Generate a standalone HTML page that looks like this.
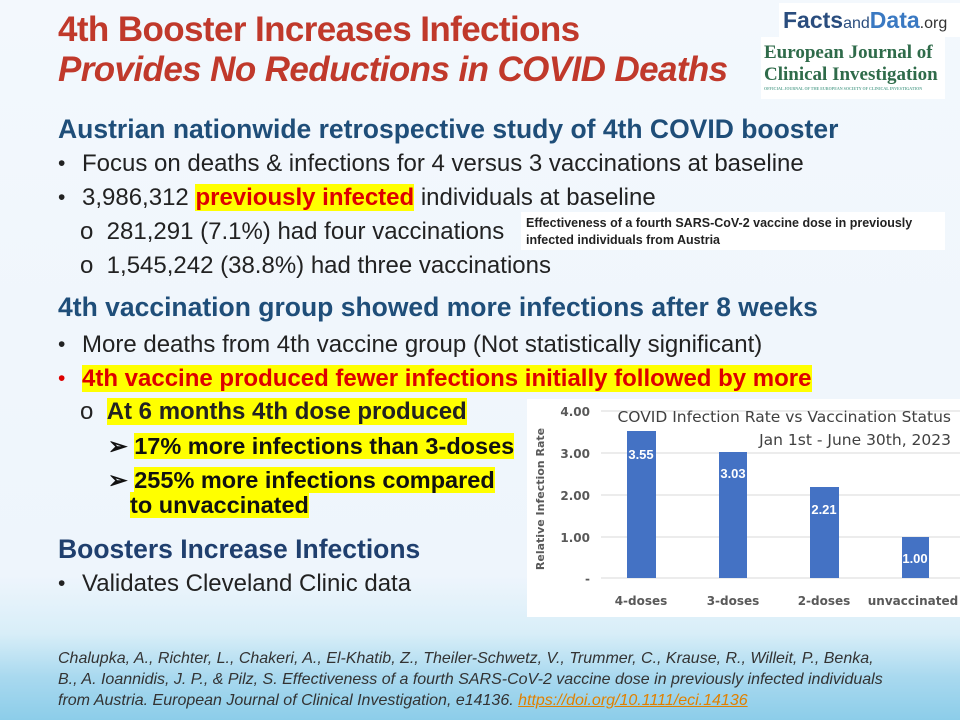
<!DOCTYPE html>
<html><head><meta charset="utf-8"><style>
body{margin:0;width:960px;height:720px;overflow:hidden;font-family:"Liberation Sans",sans-serif;position:relative;
background:linear-gradient(180deg,#f3f8fd 0%,#eef5fc 80%,#d8eef8 88%,#a9d9ef 94%,#8ccde9 100%);}
.a{position:absolute;white-space:nowrap}
.t{color:#c0392b;font-weight:bold;font-size:35px;left:58px;letter-spacing:-0.6px}
.h{color:#1f4e79;font-weight:bold;font-size:26.5px;left:58px}
.b{color:#222;font-size:24px;left:82px}
.dot{position:absolute;left:58px;font-size:21px;color:#222}
.y{background:#ffff00}
.bk{color:#111;font-weight:bold;font-size:23.5px}
</style></head><body>
<div class="a t" style="top:10px">4th Booster Increases Infections</div>
<div class="a t" style="top:50px;font-style:italic">Provides No Reductions in COVID Deaths</div>
<div class="a" style="left:779px;top:3px;width:181px;height:34px;background:#fff;font-size:23px;line-height:34px;padding-left:4px;box-sizing:border-box"><b style="color:#2a4d7e">Facts</b><span style="font-size:16px;color:#2a4d7e">and</span><b style="color:#3a79c2">Data</b><span style="font-size:16px;color:#333">.org</span></div>
<div class="a" style="left:761px;top:37px;width:184px;height:62px;background:#fff;font-family:'Liberation Serif',serif;font-weight:bold;color:#2f6b4a;font-size:19px;line-height:22px;padding:5px 0 0 3px;box-sizing:border-box">European Journal of<br>Clinical Investigation<div style="font-size:4px;line-height:6px;color:#6a9">OFFICIAL JOURNAL OF THE EUROPEAN SOCIETY OF CLINICAL INVESTIGATION</div></div>
<div class="a h" style="top:114px">Austrian nationwide retrospective study of 4th COVID booster</div>
<div class="dot" style="top:152px">•</div><div class="a b" style="top:150px">Focus on deaths &amp; infections for 4 versus 3 vaccinations at baseline</div>
<div class="dot" style="top:186px">•</div><div class="a b" style="top:184px">3,986,312 <b class="y" style="color:#d00">previously infected</b> individuals at baseline</div>
<div class="a b" style="left:80px;top:218px">o&nbsp; 281,291 (7.1%) had four vaccinations</div>
<div class="a b" style="left:80px;top:252px">o&nbsp; 1,545,242 (38.8%) had three vaccinations</div>
<div class="a" style="left:521px;top:212px;width:424px;height:38px;background:#fff;font-size:12.5px;font-weight:bold;color:#222;line-height:17px;padding:3px 0 0 5px;box-sizing:border-box">Effectiveness of a fourth SARS-CoV-2 vaccine dose in previously<br>infected individuals from Austria</div>
<div class="a h" style="top:292px">4th vaccination group showed more infections after 8 weeks</div>
<div class="dot" style="top:333px">•</div><div class="a b" style="top:331px">More deaths from 4th vaccine group (Not statistically significant)</div>
<div class="dot" style="top:367px;color:#d00">•</div><div class="a b" style="top:365px"><b class="y" style="color:#d00">4th vaccine produced fewer infections initially followed by more</b></div>
<div class="a b" style="left:80px;top:398px">o&nbsp; <b class="y">At 6 months 4th dose produced</b></div>
<div class="a bk" style="left:108px;top:432px">➢ <span class="y">17% more infections than 3-doses</span></div>
<div class="a bk" style="left:108px;top:466px">➢ <span class="y">255% more infections compared</span></div>
<div class="a bk" style="left:130px;top:492px"><span class="y">to unvaccinated</span></div>
<div class="a h" style="top:534px;color:#1f3f6e">Boosters Increase Infections</div>
<div class="dot" style="top:572px">•</div><div class="a b" style="top:570px">Validates Cleveland Clinic data</div>
<svg class="a" style="left:527px;top:399px" width="433" height="218">
<rect width="433" height="218" fill="#fff"/>
<g stroke="#d9d9d9" stroke-width="1">
<line x1="74" x2="433" y1="12" y2="12"/><line x1="74" x2="433" y1="54" y2="54"/><line x1="74" x2="433" y1="96" y2="96"/><line x1="74" x2="433" y1="138" y2="138"/><line x1="74" x2="433" y1="179" y2="179"/></g>
<g fill="#4472c4"><rect x="100" y="32" width="29" height="147"/><rect x="192" y="53" width="28" height="126"/><rect x="283" y="88" width="29" height="91"/><rect x="375" y="138" width="27" height="41"/></g>
<g font-family="Liberation Sans,sans-serif" font-weight="bold" font-size="13" fill="#fff" text-anchor="middle">
<text x="114" y="60">3.55</text><text x="206" y="79">3.03</text><text x="297" y="115">2.21</text><text x="388" y="164">1.00</text></g>
<g font-family="DejaVu Sans,sans-serif" font-weight="bold" font-size="12" fill="#595959" text-anchor="end">
<text x="63" y="17">4.00</text><text x="63" y="59">3.00</text><text x="63" y="101">2.00</text><text x="63" y="143">1.00</text><text x="63" y="184">-</text></g>
<text transform="translate(17,100) rotate(-90)" text-anchor="middle" font-family="DejaVu Sans,sans-serif" font-weight="bold" font-size="11" fill="#595959">Relative Infection Rate</text>
<g font-family="DejaVu Sans,sans-serif" font-weight="bold" font-size="12" fill="#595959" text-anchor="middle">
<text x="114" y="206">4-doses</text><text x="206" y="206">3-doses</text><text x="297" y="206">2-doses</text><text x="386" y="206">unvaccinated</text></g>
<g font-family="DejaVu Sans,sans-serif" font-size="15.5" fill="#404040" text-anchor="end">
<text x="424" y="23">COVID Infection Rate vs Vaccination Status</text><text x="424" y="46">Jan 1st - June 30th, 2023</text></g>
</svg>
<div class="a" style="left:58px;top:648px;font-size:16px;font-style:italic;color:#333;line-height:21px">Chalupka, A., Richter, L., Chakeri, A., El-Khatib, Z., Theiler-Schwetz, V., Trummer, C., Krause, R., Willeit, P., Benka,<br>B., A. Ioannidis, J. P., &amp; Pilz, S. Effectiveness of a fourth SARS-CoV-2 vaccine dose in previously infected individuals<br>from Austria. European Journal of Clinical Investigation, e14136. <span style="color:#e08000;text-decoration:underline">https://doi.org/10.1111/eci.14136</span></div>
</body></html>
